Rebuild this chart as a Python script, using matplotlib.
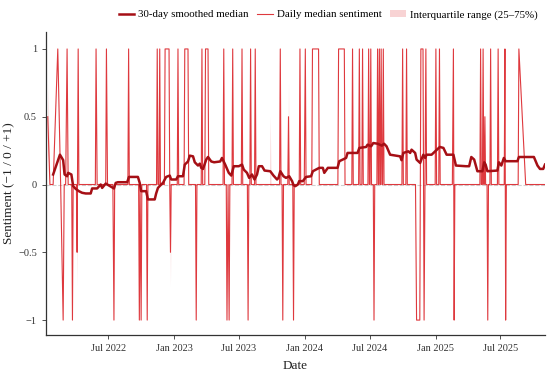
import numpy as np
import pandas as pd
import matplotlib
matplotlib.use("Agg")
import matplotlib.pyplot as plt
import matplotlib.dates as mdates
from matplotlib.ticker import FuncFormatter

plt.rcParams['font.family'] = ['Liberation Serif', 'DejaVu Serif']

start = pd.Timestamp("2022-01-01")

# daily median sentiment (days since 2022-01-01, value)
daily_day = [12, 18, 27, 40, 48, 55, 58, 62, 66, 69, 79, 81, 83, 92, 94, 97, 99,
             145, 147, 150, 174, 176, 179, 194, 197, 199, 236, 238, 240,
             266, 268, 270, 273, 275, 288, 290, 292, 316, 318, 320, 323, 325, 327,
             338, 340, 351, 353, 355, 357, 374, 376, 378, 393, 395, 404, 406,
             425, 427, 429, 441, 443, 445, 451, 453, 460, 462,
             502, 504, 506, 511, 513, 516, 519, 521, 527, 529, 531, 553, 555, 557,
             570, 572, 574, 577, 579, 581, 590, 592, 594, 632, 634, 636,
             660, 662, 664, 667, 669, 671, 683, 685, 687, 697, 699, 701,
             715, 717, 719, 729, 732, 734, 750, 752, 769, 771, 823, 825, 841, 843,
             862, 864, 866, 881, 883, 885, 890, 892, 894, 907, 909, 911, 913, 915, 917,
             922, 924, 926, 932, 934, 936, 937, 939, 941, 942, 944, 946, 948, 950, 952,
             1002, 1004, 1006, 1013, 1015, 1017, 1040, 1043, 1052, 1055, 1061, 1064,
             1069, 1071, 1095, 1097, 1099, 1105, 1107, 1109, 1143, 1146, 1148, 1150,
             1220, 1222, 1224, 1227, 1229, 1231, 1232, 1234, 1236, 1240, 1242, 1244,
             1248, 1250, 1252, 1269, 1271, 1273, 1288, 1290, 1292, 1294, 1327, 1329,
             1348, 1402]
daily_val = [0.5, 0, 0, 1, 0, -1, 0, 0, 1, 0, 0, -1, 0, 0, -0.5, 1, 0,
             0, 1, 0, 0, 1, 0, 0, -1, 0, 0, 1, 0,
             0, -1, 0, -1, 0, 0, -1, 0, 0, 1, 0, 0, 1, 0,
             0, 1, 1, 0, -0.5, 0, 0, 1, 0, 0, 1, 1, 0,
             0, -1, 0, 0, 1, 0, 0, 1, 1, 0,
             0, 1, 0, 0, -1, 0, -1, 0, 0, 1, 0, 0, 1, 0,
             0, -1, 0, 0, 1, 0, 0, 1, 0, 0, 0, 0,
             0, 1, 0, 0, -1, 0, 0, 0.5, 0, 0, -1, 0,
             0, 1, 0, 0, 1, 0, 0, 1, 1, 0, 0, 1, 1, 0,
             0, 1, 0, 0, 1, 0, 0, 1, 0, 0, 1, 0, 0, 1, 0,
             0, -1, 0, 0, 1, 0, 0, 1, 0, 0, 1, 0, 0, 1, 0,
             0, 1, 0, 0, 1, 0, 0, -1, -1, 1, 1, -1,
             1, 0, 0, 1, 0, 0, 1, 0, 0, 1, -1, 0,
             0, 1, 0, 0, 1, 0, 0, 0.5, 0, 0, -1, 0,
             0, 1, 0, 0, 1, 0, 0, 1, -1, 0, 0, 1,
             0, 0]

# interquartile range differs from the median only on a few days
iqr_low_day = {12: 0.25, 94: -0.75, 355: -0.75}
iqr_high_day = {12: 0.75, 94: -0.25, 355: -0.25, 634: 0.5, 685: 0.75}

# 30-day smoothed median
smooth_day = [27, 46, 55, 59, 66, 69, 78, 83, 90, 99, 108, 118, 132, 136, 150, 160,
              164, 174, 183, 197, 202, 208, 234, 239, 264, 269, 273, 287, 292, 311,
              315, 320, 329, 334, 343, 353, 357, 371, 376, 390, 395, 404, 409, 418,
              423, 432, 437, 441, 446, 455, 460, 469, 477, 494, 499, 508, 518, 525,
              532, 546, 555, 560, 569, 575, 583, 590, 597, 602, 611, 618, 634, 643,
              653, 657, 662, 671, 678, 687, 695, 699, 704, 711, 715, 725, 734, 748,
              753, 771, 781, 785, 795, 822, 827, 846, 850, 878, 883, 902, 906, 916,
              922, 934, 946, 952, 959, 969, 997, 1001, 1006, 1020, 1025, 1029, 1039,
              1043, 1053, 1057, 1062, 1067, 1071, 1085, 1095, 1108, 1118, 1127, 1146,
              1153, 1181, 1190, 1196, 1204, 1213, 1227, 1232, 1236, 1241, 1269, 1273,
              1280, 1287, 1292, 1325, 1329, 1371, 1381, 1388, 1397, 1402]
smooth_val = [0.074, 0.22, 0.18, 0.074, 0.061, 0.086, 0.074, -0.012, -0.032, -0.049,
              -0.061, -0.066, -0.066, -0.029, -0.029, 0.0, -0.025, 0.007, -0.007,
              -0.029, 0.012, 0.017, 0.017, 0.056, 0.056, 0.012, -0.049, -0.049, -0.11,
              -0.11, -0.066, -0.025, 0.0, 0.012, 0.056, 0.066, 0.037, 0.037, 0.061,
              0.061, 0.147, 0.17, 0.213, 0.208, 0.164, 0.14, 0.154, 0.123, 0.115,
              0.184, 0.203, 0.17, 0.164, 0.17, 0.196, 0.147, 0.086, 0.066, 0.135,
              0.135, 0.147, 0.11, 0.086, 0.049, 0.074, 0.037, 0.074, 0.135, 0.135,
              0.103, 0.098, 0.066, 0.037, 0.049, 0.098, 0.061, 0.049, 0.061, 0.025,
              -0.005, -0.012, 0.0, 0.025, 0.025, 0.056, 0.061, 0.098, 0.123, 0.123,
              0.086, 0.123, 0.123, 0.172, 0.196, 0.233, 0.233, 0.27, 0.277, 0.294,
              0.282, 0.306, 0.301, 0.287, 0.301, 0.282, 0.22, 0.208, 0.179, 0.233,
              0.245, 0.233, 0.257, 0.233, 0.184, 0.159, 0.189, 0.22, 0.196, 0.22,
              0.22, 0.245, 0.277, 0.27, 0.22, 0.22, 0.14, 0.135, 0.135, 0.203, 0.184,
              0.098, 0.098, 0.164, 0.147, 0.098, 0.103, 0.164, 0.14, 0.196, 0.172,
              0.172, 0.203, 0.203, 0.14, 0.115, 0.115, 0.147]

yticks = [-1, -0.5, 0, 0.5, 1]

daily_dates = start + pd.to_timedelta(daily_day, unit="D")
smooth_dates = start + pd.to_timedelta(smooth_day, unit="D")
daily_val = np.array(daily_val, dtype=float)
q25 = np.array([iqr_low_day.get(d, v) for d, v in zip(daily_day, daily_val)])
q75 = np.array([iqr_high_day.get(d, v) for d, v in zip(daily_day, daily_val)])

fig = plt.figure(figsize=(5.5, 3.77), dpi=100)
ax = fig.add_axes([0.0836, 0.1114, 0.9073, 0.8037])

ax.axhline(0, color="#d0d0d0", lw=0.8, ls="--", zorder=0)
iqr = ax.fill_between(daily_dates, q25, q75, color="#f4b6b8", alpha=0.6, lw=0,
                      label="Interquartile range (25–75%)")
dl, = ax.plot(daily_dates, daily_val, color="#d9161c", lw=0.8, alpha=0.85,
              label="Daily median sentiment")
sl, = ax.plot(smooth_dates, smooth_val, color="#a50f15", lw=1.8,
              label="30-day smoothed median")

ax.set_xlim(start + pd.Timedelta(days=7), start + pd.Timedelta(days=1402))
ax.set_ylim(-1.11, 1.125)
ax.set_yticks(yticks)
ax.yaxis.set_major_formatter(FuncFormatter(lambda v, p: ("%g" % v).replace("-", "\u2212")))
ax.xaxis.set_major_locator(mdates.MonthLocator(bymonth=[1, 7]))
ax.xaxis.set_major_formatter(mdates.DateFormatter("%b %Y"))

for s in ["top", "right"]:
    ax.spines[s].set_visible(False)
for s in ["left", "bottom"]:
    ax.spines[s].set_color("#333333")
    ax.spines[s].set_linewidth(0.9)
ax.tick_params(labelsize=7.5, colors="#333333", length=3, width=0.6)

ax.set_xlabel("Date", fontsize=9.5, color="#222222", labelpad=5)
ax.set_ylabel("Sentiment (\u22121 / 0 / +1)", fontsize=9.5, color="#222222", labelpad=2)

fig.legend(handles=[sl, dl, iqr], loc="upper right", bbox_to_anchor=(0.995, 1.0),
           ncol=3, frameon=False, fontsize=7.8, handlelength=1.4,
           handletextpad=0.4, columnspacing=0.8)

fig.savefig("out.png", dpi=100)
